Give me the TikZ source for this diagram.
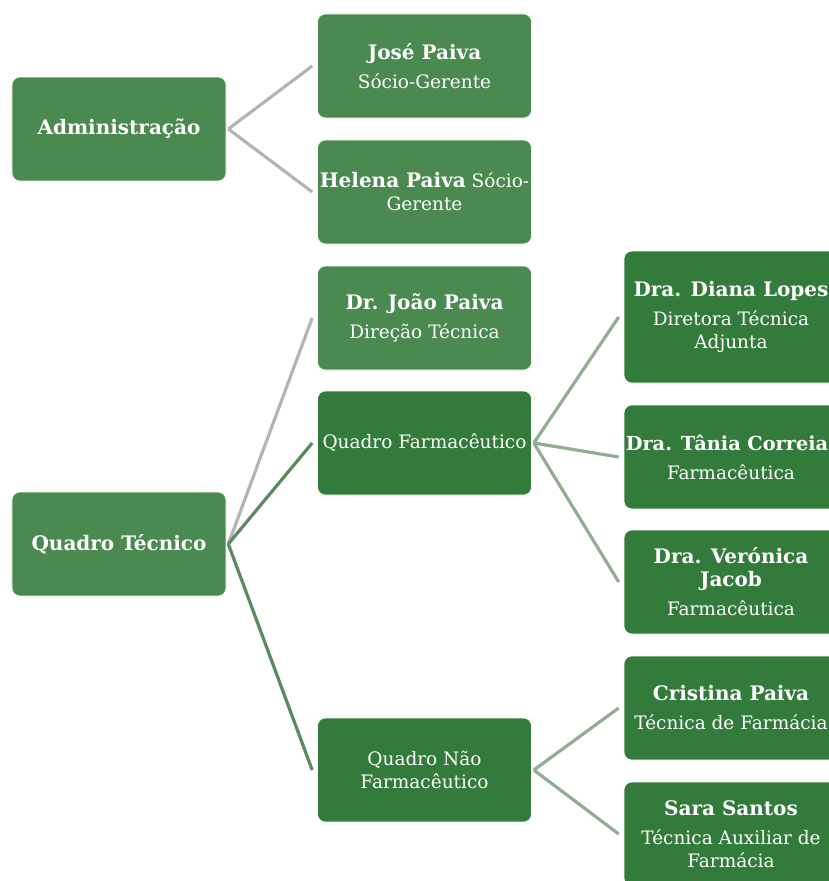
\documentclass[tikz,border=0pt]{standalone}
\usepackage{fontspec}
\setmainfont{DejaVu Serif}
\definecolor{lightg}{RGB}{74,137,80}
\definecolor{darkg}{RGB}{50,123,59}
\definecolor{lgray}{RGB}{180,180,180}
\definecolor{midg}{RGB}{90,138,94}
\definecolor{paleg}{RGB}{146,173,147}
\tikzset{
  box/.style={rectangle, rounded corners=8bp, draw=white, line width=0.6bp, minimum width=214bp, minimum height=104bp, align=center, text=white, font=\fontsize{18.5bp}{23bp}\selectfont, inner sep=0pt},
  lbox/.style={box, fill=lightg},
  dbox/.style={box, fill=darkg},
  conn/.style={line width=3.2bp},
}
\newcommand{\bn}[1]{{\fontsize{20bp}{23bp}\selectfont\bfseries #1}}
\newcommand{\nm}[1]{\bn{#1}\\[6bp]}
\begin{document}
\begin{tikzpicture}[x=1bp,y=-1bp]
\useasboundingbox (0,0) rectangle (829,881);
\node[lbox] (adm) at (119,129) {\bn{Administração}};
\node[lbox] (jose) at (424.5,66) {\nm{José Paiva}Sócio-Gerente};
\node[lbox] (helena) at (424.5,192) {\bn{Helena Paiva} Sócio-\\Gerente};
\node[lbox] (joao) at (424.5,318) {\nm{Dr. João Paiva}Direção Técnica};
\node[dbox] (qf) at (424.5,443) {Quadro Farmacêutico};
\node[lbox] (qt) at (119,544) {\bn{Quadro Técnico}};
\node[dbox] (qnf) at (424.5,770) {Quadro Não\\Farmacêutico};
\node[dbox, minimum height=132bp] (diana) at (731,317) {\nm{Dra. Diana Lopes}Diretora Técnica\\Adjunta};
\node[dbox] (tania) at (731,457) {\hspace*{-8bp}{\fontsize{19.3bp}{23bp}\selectfont\bfseries Dra. Tânia Correia}\\[6bp]Farmacêutica};
\node[dbox] (veronica) at (731,582) {\bn{Dra. Verónica}\\\nm{Jacob}Farmacêutica};
\node[dbox] (cristina) at (731,708) {\nm{Cristina Paiva}Técnica de Farmácia};
\node[dbox] (sara) at (731,834) {\nm{Sara Santos}Técnica Auxiliar de\\Farmácia};

\draw[conn, lgray] ([xshift=2bp]adm.east) -- ([xshift=-5bp]jose.west);
\draw[conn, lgray] ([xshift=2bp]adm.east) -- ([xshift=-5bp]helena.west);
\draw[conn, lgray] ([xshift=2bp]qt.east) -- ([xshift=-5bp]joao.west);
\draw[conn, midg] ([xshift=2bp]qt.east) -- ([xshift=-5bp]qf.west);
\draw[conn, midg] ([xshift=2bp]qt.east) -- ([xshift=-5bp]qnf.west);
\draw[conn, paleg] ([xshift=2bp]qf.east) -- ([xshift=-5bp]diana.west);
\draw[conn, paleg] ([xshift=2bp]qf.east) -- ([xshift=-5bp]tania.west);
\draw[conn, paleg] ([xshift=2bp]qf.east) -- ([xshift=-5bp]veronica.west);
\draw[conn, paleg] ([xshift=2bp]qnf.east) -- ([xshift=-5bp]cristina.west);
\draw[conn, paleg] ([xshift=2bp]qnf.east) -- ([xshift=-5bp]sara.west);
\end{tikzpicture}
\end{document}
